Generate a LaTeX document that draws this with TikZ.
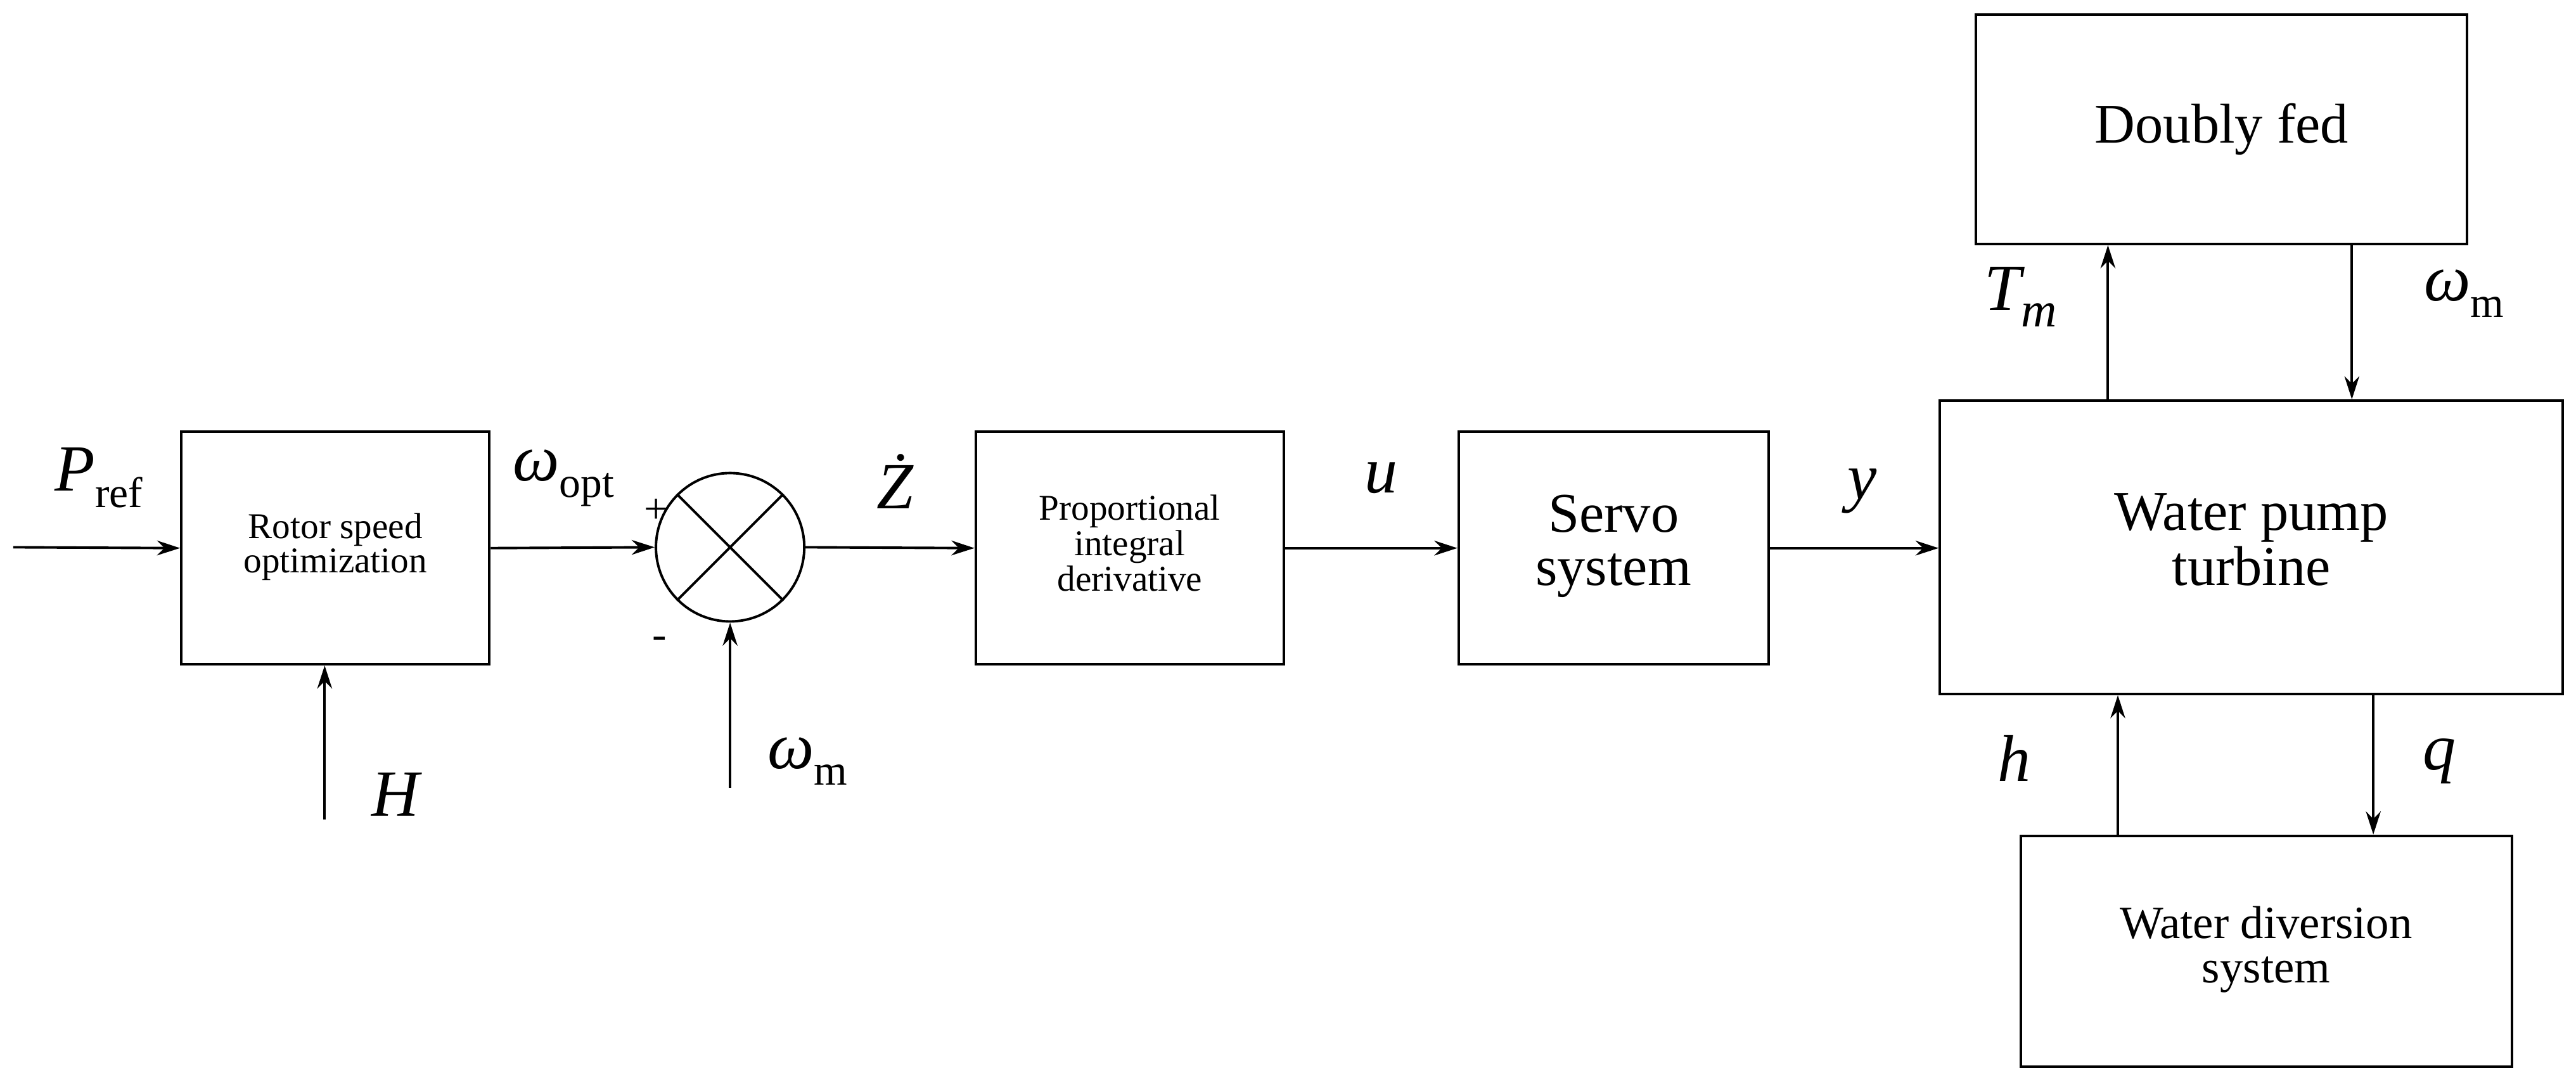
\documentclass[tikz,border=0pt]{standalone}
\usepackage{fontspec}
\setmainfont{Liberation Serif}
\newfontfamily\tnr{Liberation Serif}
\usetikzlibrary{arrows.meta}
\newcommand{\sbx}[1]{\raisebox{-0.25em}{\fontsize{26}{28}\selectfont\upshape #1}}
\newcommand{\mlines}[2]{{\tnr\fontsize{#1}{#1}\selectfont\renewcommand{\arraystretch}{0.95}\begin{tabular}{@{}c@{}}#2\end{tabular}}}
\begin{document}
\begin{tikzpicture}[x=1pt,y=-1pt,
  blk/.style={draw,line width=1.5pt,inner sep=0pt},
  bg/.style={font=\tnr\fontsize{34}{38}\selectfont},
  lab/.style={font=\tnr\itshape\fontsize{40}{44}\selectfont},
  ar/.style={line width=1.5pt,-{Stealth[length=14pt,width=9pt]}},
  ln/.style={line width=1.5pt}]
\useasboundingbox (0,0) rectangle (1563,655);
\node[blk,minimum width=187pt,minimum height=141pt] (rot) at (203.5,332.5) {\mlines{22}{Rotor speed\\optimization}};
\node[draw,circle,line width=1.5pt,minimum size=90pt,inner sep=0pt] (sum) at (443,332) {};
\draw[ln] (sum.45)--(sum.225) (sum.135)--(sum.315);
\node[blk,minimum width=187pt,minimum height=141pt] (pid) at (685.5,332.5) {\mlines{22}{Proportional\\integral\\derivative}};
\node[blk,minimum width=188pt,minimum height=141pt] (servo) at (979,332.5) {\mlines{34}{Servo\\system}};
\node[blk,minimum width=378pt,minimum height=178pt] (wpt) at (1366,332) {\mlines{34}{Water pump\\turbine}};
\node[blk,bg,minimum width=298pt,minimum height=139pt] (dfed) at (1348,78.5) {Doubly fed};
\node[blk,minimum width=298pt,minimum height=140pt] (wds) at (1375,577) {\mlines{28}{Water diversion\\system}};
\coordinate (in) at (8,332);
\coordinate (hin) at (197,497);
\coordinate (win) at (443,478);
\draw[ar] (in)--(rot.west);
\draw[ar] (hin)--(rot.south -| hin);
\draw[ar] (rot.east)--(sum.west);
\draw[ar] (win)--(sum.south);
\draw[ar] (sum.east)--(pid.west);
\draw[ar] (pid.east)--(servo.west);
\draw[ar] (servo.east)--(wpt.west |- servo.east);
\draw[ar] (wpt.north -| 1279,0)--(dfed.south -| 1279,0);
\draw[ar] (dfed.south -| 1427,0)--(wpt.north -| 1427,0);
\draw[ar] (wds.north -| 1285,0)--(wpt.south -| 1285,0);
\draw[ar] (wpt.south -| 1440,0)--(wds.north -| 1440,0);
\node[lab] (pref) at (60,290) {P\sbx{ref}};
\node[lab] (hl) at (240,482) {H};
\node[lab] (wopt) at (342,290) {ω\sbx{opt}};
\node[font=\tnr\fontsize{26}{28}\selectfont] (plus) at (398,310) {+};
\node[font=\tnr\fontsize{26}{28}\selectfont] (minus) at (400,390) {-};
\node[lab] (wm1) at (490,462) {ω\sbx{m}};
\node[lab] (zd) at (543,292) {Ż};
\node[lab] (ul) at (838,290) {u};
\node[lab] (yl) at (1130,298) {y};
\node[lab] (tm) at (1226,180) {T\raisebox{-0.25em}{\fontsize{30}{32}\selectfont m}};
\node[lab] (wm2) at (1495,178) {ω\sbx{m}};
\node[lab] (hl2) at (1222,460) {h};
\node[lab] (ql) at (1480,462) {q};
\end{tikzpicture}
\end{document}
